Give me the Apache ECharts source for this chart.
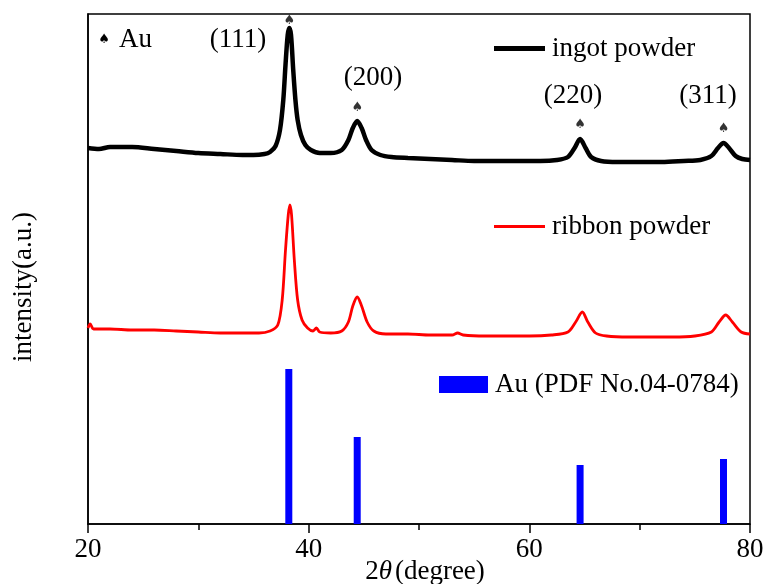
<!DOCTYPE html>
<html>
<head>
<meta charset="utf-8">
<script src="https://cdn.jsdelivr.net/npm/echarts@6/dist/echarts.min.js"></script>
<style>html,body{margin:0;padding:0;background:#fff}#c{width:766px;height:584px}</style>
</head>
<body>
<div id="c"></div>
<script>
// 2θ (degree), intensity (arbitrary units, offset stacked)
const ingotX = [20,21,22,24,26,28,30,32,34,35,36,36.5,37,37.4,37.7,37.9,38.1,38.25,38.4,38.6,38.8,39.0,39.3,39.7,40.2,41,42,43,43.6,44.0,44.4,44.8,45.2,45.7,46.5,47.5,49,51,53,55,57,59,61,62.5,63.5,64.1,64.6,65.1,65.6,66.5,68,70,72,74,75.5,76.5,77.1,77.6,78.1,78.7,79.3,80];
const ingotY = [376,375,377,377,375,373,371,370,369,369,370,372,378,394,424,459,489,496,489,454,424,404,389,379,374,371,371,374,384,396,403,396,384,374,369,367,366,365,364,363,363,363,363,364,367,376,385,376,367,363,362,362,362,363,364,368,376,381,376,368,365,364];

const ribbonX = [20,20.2,20.5,22,24,26,28,30,32,34,35.5,36.5,37.2,37.6,37.9,38.15,38.3,38.45,38.7,39.0,39.4,39.9,40.4,40.7,41.0,42,43,43.6,44.0,44.4,44.8,45.3,45.9,47,49,51,53,53.5,54,56,58,60,62,63.5,64.2,64.8,65.3,66,67,69,71,73,75,76.5,77.2,77.8,78.4,79.2,80];
const ribbonY = [196,200,195,195,194,194,193,192,191,191,191,193,199,224,274,309,319,309,264,224,204,196,193,196,192,191,193,202,218,227,218,202,193,190,190,189,189,191,189,188,188,188,189,192,202,212,202,191,188,187,187,187,188,192,202,209,202,192,190];

const pdfX = [38.2,44.4,64.6,77.6];
const pdfY = [155,87,59,65];

const markX = [38.25,44.4,64.6,77.6];
const markY = [503,416,399,395];

const hklLabels = ['(111)','(200)','(220)','(311)'];
const xTicks = [20,40,60,80];

const seriesNames = ['ingot powder','ribbon powder','Au (PDF No.04-0784)'];

const FONT = '"Liberation Serif","Times New Roman",serif';
const chart = echarts.init(document.getElementById('c'), null, {renderer:'canvas'});

const zip = (a,b) => a.map((v,i)=>[v,b[i]]);

const hklPos = [[238,40],[373,78],[573,96],[708,96]];

chart.setOption({
  animation:false,
  backgroundColor:'#fff',
  grid:{left:88,right:16,top:14,bottom:60,containLabel:false,outerBoundsMode:'none',
        show:true,borderColor:'#000',borderWidth:1.5,backgroundColor:'transparent'},
  xAxis:{
    type:'value',min:xTicks[0],max:xTicks[xTicks.length-1],interval:20,
    axisLine:{show:true,onZero:false,lineStyle:{color:'#000',width:1.5}},
    axisTick:{show:true,inside:false,length:9,lineStyle:{color:'#000',width:1.5}},
    minorTick:{show:true,splitNumber:2,length:6,lineStyle:{color:'#000',width:1.5}},
    splitLine:{show:false},
    axisLabel:{color:'#000',fontFamily:FONT,fontSize:27,margin:12},
    name:'{n|2}{t|θ}{s|(degree)}',nameLocation:'middle',nameGap:34,nameMoveOverlap:false,
    nameTextStyle:{padding:[0,0,0,12],rich:{n:{fontFamily:FONT,fontSize:27,color:'#000'},
      t:{fontFamily:FONT,fontSize:27,fontStyle:'italic',color:'#000'},
      s:{fontFamily:FONT,fontSize:27,color:'#000',padding:[0,0,0,3]}}}
  },
  yAxis:{
    type:'value',min:0,max:510,
    axisLine:{show:true,lineStyle:{color:'#000',width:1.5}},
    axisTick:{show:false},axisLabel:{show:false},splitLine:{show:false},
    name:'intensity(a.u.)',nameLocation:'middle',nameGap:51,nameRotate:90,nameMoveOverlap:false,
    nameTextStyle:{fontFamily:FONT,fontSize:27,color:'#000',padding:[0,36,0,0]}
  },
  legend:[
    {data:[seriesNames[0]],left:489,top:30,icon:'rect',itemWidth:51,itemHeight:5,itemGap:0,
     textStyle:{fontFamily:FONT,fontSize:27,color:'#000',padding:[0,0,0,2]}},
    {data:[seriesNames[1]],left:489,top:208,icon:'rect',itemWidth:51,itemHeight:3,itemGap:0,
     textStyle:{fontFamily:FONT,fontSize:27,color:'#000',padding:[0,0,0,2]}},
    {data:[seriesNames[2]],left:434,top:366,icon:'rect',itemWidth:49,itemHeight:17,itemGap:0,
     textStyle:{fontFamily:FONT,fontSize:27,color:'#000',padding:[0,0,0,2]}}
  ],
  series:[
    {name:seriesNames[0],type:'line',data:zip(ingotX,ingotY),symbol:'none',smooth:0.3,
     lineStyle:{color:'#000',width:4.5},itemStyle:{color:'#000'},z:3},
    {name:seriesNames[1],type:'line',data:zip(ribbonX,ribbonY),symbol:'none',smooth:0.3,
     lineStyle:{color:'#f00',width:2.8},itemStyle:{color:'#f00'},z:3},
    {name:seriesNames[2],type:'bar',data:zip(pdfX,pdfY),barWidth:7,itemStyle:{color:'#0000ff'},z:2},
    {type:'scatter',data:zip(markX,markY),symbolSize:0,silent:true,
     label:{show:true,formatter:'♠',position:'inside',fontFamily:'"DejaVu Sans"',fontSize:13,color:'#000'}}
  ],
  graphic:[
    {type:'text',x:104,y:40,style:{text:'♠',font:'13px "DejaVu Sans"',fill:'#000',align:'center',verticalAlign:'middle'}},
    {type:'text',x:119,y:40,style:{text:'Au',font:'27px "Liberation Serif"',fill:'#000',verticalAlign:'middle'}}
  ].concat(hklLabels.map((t,i)=>({type:'text',x:hklPos[i][0],y:hklPos[i][1],
    style:{text:t,font:'27px "Liberation Serif"',fill:'#000',align:'center',verticalAlign:'middle'}})))
});
</script>
</body>
</html>
